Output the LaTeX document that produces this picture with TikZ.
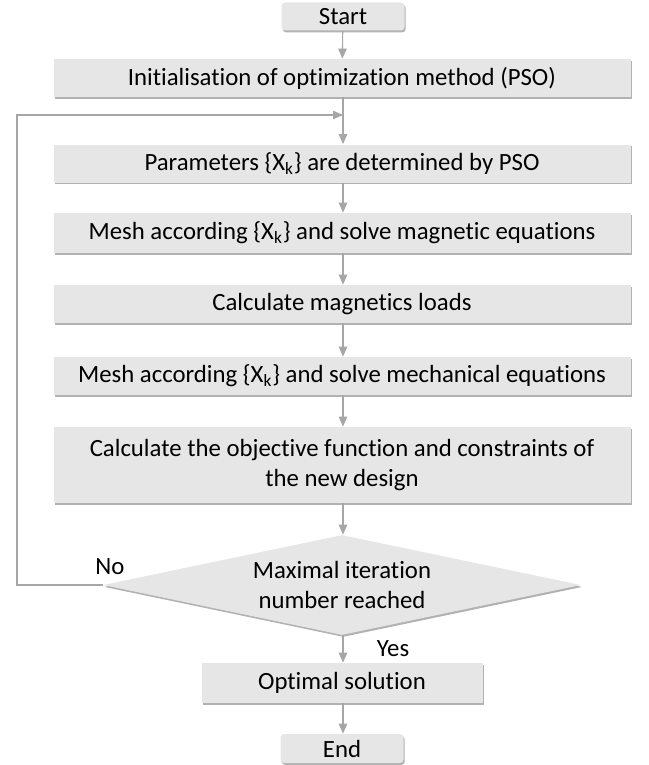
\documentclass[tikz,border=0pt]{standalone}
\usepackage{fontspec}
\setmainfont[Ligatures=NoCommon]{Carlito}
\usepackage{xcolor}
\usepackage{tikz}
\usetikzlibrary{shapes.geometric,arrows.meta,positioning,shadows}
\definecolor{boxfill}{HTML}{E6E6E6}
\definecolor{linegray}{HTML}{A6A6A6}

\begin{document}
\begin{tikzpicture}[
  font=\fontsize{14.1}{17.5}\selectfont,
  proc/.style={rectangle,fill=boxfill,minimum width=11.54cm,minimum height=0.76cm,align=center,inner sep=2pt,
    drop shadow={shadow xshift=0.7pt,shadow yshift=-1.1pt,fill=black!60,opacity=0.5}},
  term/.style={proc,rounded corners=2pt,minimum width=2.46cm,minimum height=0.56cm},
  decide/.style={diamond,fill=boxfill,minimum width=9.56cm,minimum height=2cm,aspect=4.78,inner sep=0pt,align=center,
    drop shadow={shadow xshift=0.7pt,shadow yshift=-1.1pt,fill=black!60,opacity=0.5}},
  flow/.style={draw=linegray,line width=0.6pt,-{Triangle[width=0.17cm,length=0.2cm]},color=linegray}
]
  \useasboundingbox (0,0) rectangle (12.96,-15.3);
  \node[term] (start) at (6.86,-0.33) {Start};
  \node[proc] (init)  at (6.84,-1.56) {Initialisation of optimization method (PSO)};
  \node[proc] (par)   at (6.84,-3.27) {Parameters \{X\textsubscript{k}\} are determined by PSO};
  \node[proc,minimum height=0.8cm] (mag) at (6.84,-4.66) {Mesh according \{X\textsubscript{k}\} and solve magnetic equations};
  \node[proc] (load)  at (6.84,-6.08) {Calculate magnetics loads};
  \node[proc] (mech)  at (6.84,-7.52) {Mesh according \{X\textsubscript{k}\} and solve mechanical equations};
  \node[proc,minimum height=1.52cm] (obj) at (6.84,-9.3) {Calculate the objective function and constraints of\\the new design};
  \node[decide] (iter) at (6.84,-11.7) {Maximal iteration\\number reached};
  \node[proc,minimum width=5.62cm,minimum height=0.8cm] (opt) at (6.84,-13.66) {Optimal solution};
  \node[term,minimum height=0.58cm] (end) at (6.84,-14.97) {End};
  \coordinate (merge) at (6.86,-2.3);
  \coordinate (back) at (0.34,-2.3);

  \draw[flow] (start) -- (init);
  \draw[flow] (init.south -| merge) -- (par.north -| merge);
  \draw[flow] (par.south -| merge) -- (mag.north -| merge);
  \draw[flow] (mag.south -| merge) -- (load.north -| merge);
  \draw[flow] (load.south -| merge) -- (mech.north -| merge);
  \draw[flow] (mech.south -| merge) -- (obj.north -| merge);
  \draw[flow] (obj.south -| merge) -- (iter.north -| merge);
  \draw[flow] (iter.south -| merge) -- node[right=0.55cm,text=black]{Yes} (opt.north -| merge);
  \draw[flow] (opt.south -| merge) -- (end.north -| merge);
  \draw[flow] (iter.west) -- (iter.west -| back) -- (back) -- (merge);
  \node (no) at (2.2,-11.34) {No};
\end{tikzpicture}
\end{document}
